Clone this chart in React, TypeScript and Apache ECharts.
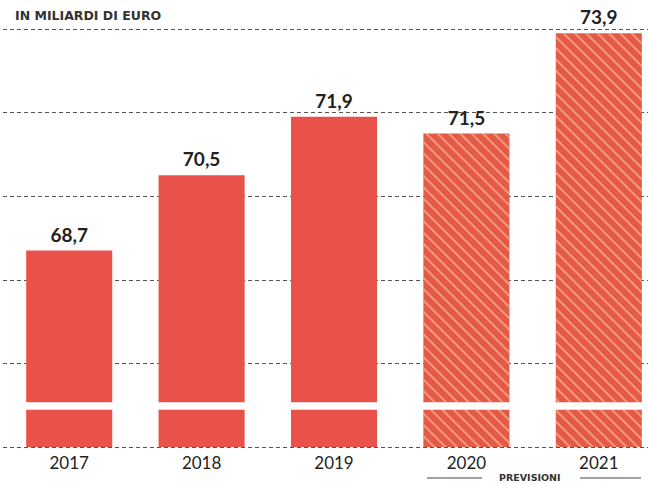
import React, { useEffect, useRef } from "react";
import * as echarts from "echarts";

const years = ["2017", "2018", "2019", "2020", "2021"];
const values = [68.7, 70.5, 71.9, 71.5, 73.9];
const forecast = [false, false, false, true, true];
const breakLow = 64.9;
const breakHigh = 65.07;

const RED = "#e8524a";
const HATCH_BASE = "#e45a48";

const hatch = {
  symbol: "rect",
  symbolSize: 1,
  dashArrayX: [1, 0],
  dashArrayY: [2, 6],
  rotation: Math.PI / 4,
  color: "rgba(255,180,140,0.7)",
};

function itemFor(v: number, i: number) {
  return forecast[i]
    ? { value: v, itemStyle: { color: HATCH_BASE, decal: hatch } }
    : { value: v, itemStyle: { color: RED } };
}

export default function App() {
  const ref = useRef<HTMLDivElement>(null);
  useEffect(() => {
    const chart = echarts.init(ref.current!, null, { renderer: "svg" });
    const lato = "Lato, 'Open Sans', sans-serif";
    const wide = "'DejaVu Sans', Lato, sans-serif";
    chart.setOption({
      animation: false,
      aria: { enabled: false },
      grid: { left: 3, top: 29, width: 662, bottom: 38, containLabel: false, outerBoundsMode: "none" },
      xAxis: {
        type: "category",
        data: years,
        axisLine: { show: false },
        axisTick: { show: false },
        axisLabel: { color: "#222", fontSize: 17, fontFamily: lato, margin: 7 },
      },
      yAxis: {
        type: "value",
        min: 64,
        max: 74,
        interval: 2,
        axisLabel: { show: false },
        axisLine: { show: false },
        axisTick: { show: false },
        splitLine: { lineStyle: { color: "#555", type: [4, 3], width: 1 } },
      },
      series: [
        {
          type: "bar",
          stack: "s",
          barWidth: "65%",
          data: years.map((_, i) => itemFor(breakLow, i)),
        },
        {
          type: "bar",
          stack: "s",
          data: years.map(() => ({ value: breakHigh - breakLow, itemStyle: { color: "#fff" } })),
        },
        {
          type: "bar",
          stack: "s",
          data: values.map((v, i) => itemFor(+(v - breakHigh).toFixed(3), i)),
          label: {
            show: true,
            position: "top",
            distance: 7,
            color: "#222",
            fontSize: 19,
            fontWeight: "bold",
            fontFamily: lato,
            formatter: (p: any) => values[p.dataIndex].toFixed(1).replace(".", ","),
          },
        },
      ],
      graphic: [
        {
          type: "text",
          left: 15,
          top: 9,
          style: {
            text: "IN MILIARDI DI EURO",
            fill: "#333",
            font: `bold 12.5px ${wide}`,
          },
        },
        {
          type: "text",
          left: 499,
          top: 472,
          style: { text: "PREVISIONI", fill: "#333", font: `bold 9.5px ${wide}` },
        },
        { type: "line", shape: { x1: 427, y1: 478, x2: 482, y2: 478 }, style: { stroke: "#444", lineWidth: 1 } },
        { type: "line", shape: { x1: 580, y1: 478, x2: 641, y2: 478 }, style: { stroke: "#444", lineWidth: 1 } },
      ],
    });
    return () => chart.dispose();
  }, []);
  return (
    <div
      ref={ref}
      style={{ position: "fixed", left: 0, top: 0, width: 648, height: 485, background: "#fff" }}
    />
  );
}
